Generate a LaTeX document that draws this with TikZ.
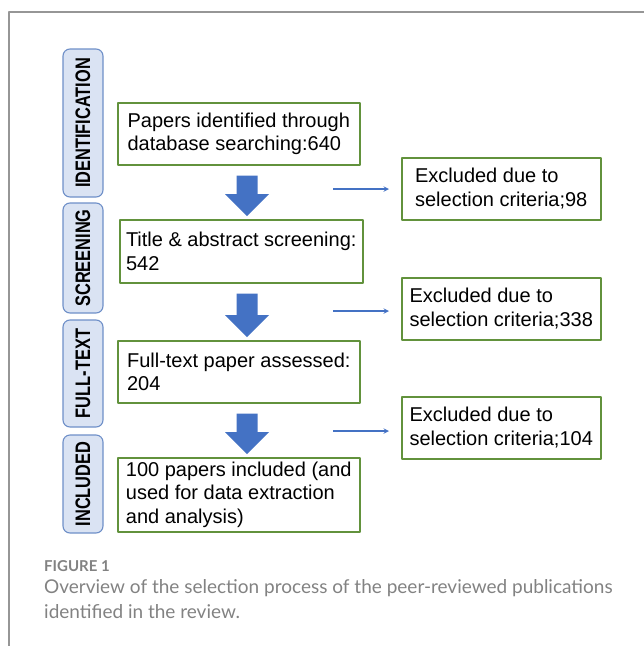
\documentclass[tikz,border=0pt]{standalone}
\usepackage{fontspec}
\setmainfont{Liberation Sans}
\newfontfamily\captionfont{Lato}
\usetikzlibrary{calc}
\definecolor{boxgreen}{RGB}{98,146,60}
\definecolor{stageblue}{RGB}{110,143,200}
\definecolor{stagefill}{RGB}{218,227,243}
\definecolor{arrowblue}{RGB}{68,114,196}
\definecolor{framegray}{RGB}{150,150,150}
\definecolor{captiongray}{RGB}{130,130,130}
\tikzset{
	stagebox/.style={draw=stageblue, fill=stagefill, line width=1.1pt, rounded corners=7pt, minimum width=40pt, inner sep=0pt, font=\fontsize{21}{21}\selectfont\bfseries},
	paperbox/.style={draw=boxgreen, line width=1.5pt, align=left, inner sep=0pt, anchor=north west, font=\fontsize{20}{23.5}\selectfont},
	captiontext/.style={anchor=base west, inner sep=0pt, text=captiongray},
}
\begin{document}
\begin{tikzpicture}[x=1pt, y=-1pt, line join=round, >=stealth]
			\useasboundingbox (0,0) rectangle (644,646);
			\draw[framegray, line width=1.2pt] (644,12) -- (9,12) -- (9,646);
			
			% stages
			\node[stagebox, minimum height=148pt] (ident) at (83,123) {\rotatebox{90}{\scalebox{0.78}[1]{IDENTIFICATION}}};
			\node[stagebox, minimum height=110pt] (screen) at (83,258) {\rotatebox{90}{\scalebox{0.78}[1]{SCREENING}}};
			\node[stagebox, minimum height=107pt] (full) at (83,373.5) {\rotatebox{90}{\scalebox{0.78}[1]{FULL-TEXT}}};
			\node[stagebox, minimum height=98pt] (incl) at (83,484) {\rotatebox{90}{\scalebox{0.78}[1]{INCLUDED}}};
			
			% main boxes
			\node[paperbox, minimum width=242pt, minimum height=62pt] (pap) at (117,102) {Papers identified through\\database searching:640};
			\node[paperbox, minimum width=243pt, minimum height=63pt] (tas) at (119,219) {Title \& abstract screening:\\542};
			\node[paperbox, minimum width=242pt, minimum height=62pt] (fta) at (117,340) {Full-text paper assessed:\\204};
			\node[paperbox, minimum width=242pt, minimum height=74pt] (inc) at (117,457) {100 papers included (and\\used for data extraction\\and analysis)};
			
			% excluded boxes
			\node[paperbox, minimum width=199pt, minimum height=62pt] (exa) at (401,157) {Excluded due to\\selection criteria;98};
			\node[paperbox, minimum width=199pt, minimum height=62pt] (exb) at (401,277) {Excluded due to\\selection criteria;338};
			\node[paperbox, minimum width=199pt, minimum height=62pt] (exc) at (401,396) {Excluded due to\\selection criteria;104};
			
			\foreach \a/\b in {pap/tas, tas/fta, fta/inc}
			\fill[arrowblue] let \p1=(\a.south), \p2=(\b.north) in
			(236.5pt,{\y1-10pt}) -- (257.5pt,{\y1-10pt}) -- (257.5pt,{\y2+25pt}) -- (269pt,{\y2+25pt})
			-- (247pt,{\y2+3pt}) -- (225pt,{\y2+25pt}) -- (236.5pt,{\y2+25pt}) -- cycle;
			
			\foreach \i/\y in {1/189, 2/311, 3/431}{
				\coordinate (s\i) at (333,\y);
				\coordinate (e\i) at (389,\y);
				\draw[->, arrowblue, line width=1.4pt] (s\i) -- (e\i);
			}
			
			% caption
			\node[captiontext, font=\captionfont\fontsize{15}{15}\selectfont\bfseries] (fig) at (44,571) {FIGURE 1};
			\node[captiontext, font=\captionfont\fontsize{19}{19}\selectfont] (capa) at (44,593) {Overview of the selection process of the peer-reviewed publications};
			\node[captiontext, font=\captionfont\fontsize{19}{19}\selectfont] (capb) at (44,618) {identified in the review.};
		\end{tikzpicture}
\end{document}
